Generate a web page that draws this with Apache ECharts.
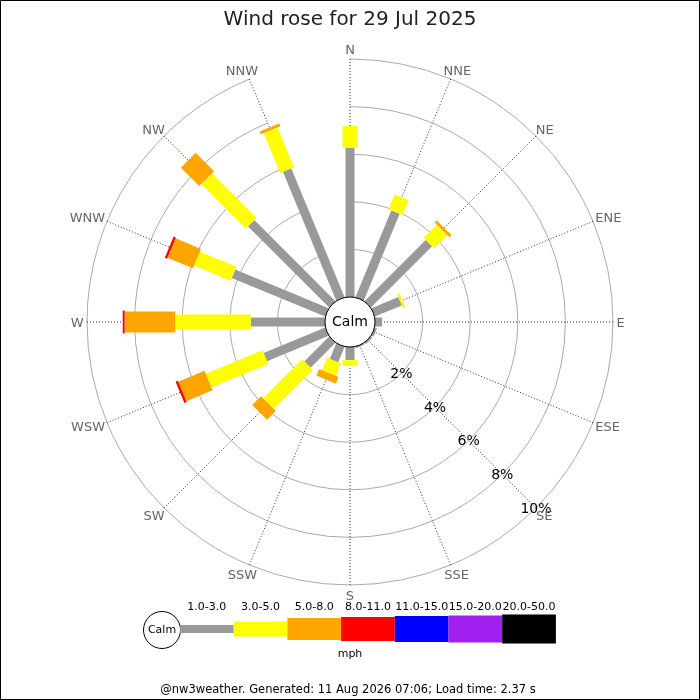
<!DOCTYPE html>
<html>
<head>
<meta charset="utf-8">
<script src="https://cdn.jsdelivr.net/npm/echarts@6/dist/echarts.min.js"></script>
<style>
  html, body { margin: 0; padding: 0; background: #fff; }
  #chart { width: 700px; height: 700px; }
</style>
</head>
<body>
<div id="chart"></div>
<script>
// ---- data ----
const directions = ['N','NNE','NE','ENE','E','ESE','SE','SSE','S','SSW','SW','WSW','W','WNW','NW','NNW'];
// percentage of time per direction in each speed class (mph)
const speed1to3  = [6.26, 3.95, 3.64, 1.23, 0.30, 0.10, 0.08, 0.06, 0.55, 0.71, 1.48, 2.80, 3.12, 4.25, 4.82, 5.86];
const speed3to5  = [0.92, 0.67, 0.78, 0.10, 0, 0, 0, 0, 0.25, 0.56, 2.32, 2.58, 3.17, 1.66, 2.65, 1.81];
const speed5to8  = [0, 0, 0.12, 0, 0, 0, 0, 0, 0, 0.30, 0.52, 1.20, 2.13, 1.16, 1.09, 0.13];
const speed8to11 = [0, 0, 0, 0, 0, 0, 0, 0, 0, 0, 0, 0.10, 0.08, 0.10, 0, 0];
const speedClasses = ['1.0-3.0', '3.0-5.0', '5.0-8.0', '8.0-11.0', '11.0-15.0', '15.0-20.0', '20.0-50.0'];
const radiusTicks = [2, 4, 6, 8, 10];
const titleText = 'Wind rose for 29 Jul 2025';
const footerText = '@nw3weather. Generated: 11 Aug 2026 07:06; Load time: 2.37 s';

// ---- styles ----
const classColors = ['#999999', '#ffff00', '#ffa500', '#ff0000', '#0000ff', '#a020f0', '#000000'];
const roseWidths = [9, 15, 21, 23];
const legendHeights = [8, 15, 22, 24, 26, 27, 29];
const FONT = 'DejaVu Sans';
const DIR_FONT = '13px "' + FONT + '"';

const classSeries = [speed1to3, speed3to5, speed5to8, speed8to11];
const rMax = radiusTicks[radiusTicks.length - 1];

const measureCtx = document.createElement('canvas').getContext('2d');
function textWidth(t, font) { measureCtx.font = font; return measureCtx.measureText(t).width; }

function buildSegments(k) {
  const out = [];
  for (let i = 0; i < directions.length; i++) {
    let start = 0;
    for (let j = 0; j < k; j++) start += classSeries[j][i];
    const v = classSeries[k][i];
    if (v > 0) out.push([start + v, i, start]);
  }
  return out;
}

function barRenderer(width, color) {
  return function (params, api) {
    const end = api.value(0), idx = api.value(1), start = api.value(2);
    const cx = params.coordSys.cx, cy = params.coordSys.cy;
    const p0 = api.coord([start, idx]);
    const p1 = api.coord([end, idx]);
    let dx = p1[0] - cx, dy = p1[1] - cy;
    const len = Math.sqrt(dx * dx + dy * dy) || 1;
    dx /= len; dy /= len;
    const nx = -dy * width / 2, ny = dx * width / 2;
    return {
      type: 'polygon',
      shape: { points: [
        [p0[0] + nx, p0[1] + ny], [p1[0] + nx, p1[1] + ny],
        [p1[0] - nx, p1[1] - ny], [p0[0] - nx, p0[1] - ny]
      ] },
      style: { fill: color }
    };
  };
}

const series = classSeries.map((arr, k) => ({
  type: 'custom',
  name: speedClasses[k],
  coordinateSystem: 'polar',
  z: 3 + k,
  silent: true,
  data: buildSegments(k),
  renderItem: barRenderer(roseWidths[k], classColors[k])
}));

// calm circle in the centre
series.push({
  type: 'custom',
  coordinateSystem: 'polar',
  z: 20,
  silent: true,
  data: [[0, 0]],
  renderItem: function (params, api) {
    const cs = params.coordSys;
    return {
      type: 'group',
      children: [
        { type: 'circle', shape: { cx: cs.cx, cy: cs.cy, r: cs.r0 },
          style: { fill: '#fff', stroke: '#000', lineWidth: 1 } },
        { type: 'text', x: cs.cx, y: cs.cy,
          style: { text: 'Calm', fill: '#000', font: '14px "' + FONT + '"', align: 'center', verticalAlign: 'middle' } }
      ]
    };
  }
});

// percentage labels along SE spoke
const seIndex = directions.indexOf('SE');
series.push({
  type: 'custom',
  coordinateSystem: 'polar',
  z: 21,
  silent: true,
  data: radiusTicks.map(v => [v, seIndex]),
  renderItem: function (params, api) {
    const p = api.coord([api.value(0), api.value(1)]);
    return {
      type: 'text', x: p[0], y: p[1] + 1,
      style: { text: api.value(0) + '%', fill: '#000', font: '14px "' + FONT + '"', align: 'center', verticalAlign: 'middle' }
    };
  }
});

// compass direction labels just outside the outer ring
series.push({
  type: 'custom',
  coordinateSystem: 'polar',
  z: 22,
  silent: true,
  data: directions.map((d, i) => [rMax, i]),
  renderItem: function (params, api) {
    const cs = params.coordSys;
    const i = api.value(1);
    const p = api.coord([api.value(0), i]);
    let ux = p[0] - cs.cx, uy = p[1] - cs.cy;
    const len = Math.sqrt(ux * ux + uy * uy) || 1;
    ux /= len; uy /= len;
    const label = directions[i];
    const hw = textWidth(label, DIR_FONT) / 2, hh = 6.5;
    const gap = 3.5;
    return {
      type: 'text',
      x: p[0] + ux * gap + hw * ux,
      y: p[1] + uy * gap + hh * uy + 1.5,
      style: { text: label, fill: '#666', font: DIR_FONT, align: 'center', verticalAlign: 'middle' }
    };
  }
});

// ---- legend graphics ----
const graphics = [];
graphics.push({ type: 'rect', shape: { x: 0.5, y: 0.5, width: 699, height: 699 },
  style: { fill: 'none', stroke: '#000', lineWidth: 1 }, z: 100 });
const legX0 = 180, legW = 53.7, legCY = 629;
graphics.push({ type: 'circle', shape: { cx: 162, cy: 630, r: 18.5 },
  style: { fill: '#fff', stroke: '#000', lineWidth: 1 } });
graphics.push({ type: 'text', x: 162, y: 630,
  style: { text: 'Calm', fill: '#000', font: '11px "' + FONT + '"', align: 'center', verticalAlign: 'middle' } });
speedClasses.forEach((lab, k) => {
  const x = legX0 + k * legW;
  graphics.push({ type: 'rect', shape: { x: x, y: legCY - legendHeights[k] / 2, width: legW, height: legendHeights[k] },
    style: { fill: classColors[k] } });
  graphics.push({ type: 'text', x: x + legW / 2, y: 607,
    style: { text: lab, fill: '#000', font: '11px "' + FONT + '"', align: 'center', verticalAlign: 'middle' } });
});
graphics.push({ type: 'text', x: 350, y: 654,
  style: { text: 'mph', fill: '#000', font: '11px "' + FONT + '"', align: 'center', verticalAlign: 'middle' } });
graphics.push({ type: 'text', x: 348, y: 690,
  style: { text: footerText, fill: '#000', font: '11.5px "' + FONT + '"', align: 'center', verticalAlign: 'middle' } });

const chart = echarts.init(document.getElementById('chart'), null, { renderer: 'canvas' });
chart.setOption({
  backgroundColor: '#fff',
  animation: false,
  title: {
    text: titleText, left: 'center', top: 5,
    textStyle: { fontFamily: FONT, fontSize: 20, fontWeight: 'normal', color: '#222' }
  },
  polar: { center: [350, 322], radius: [25, 263] },
  angleAxis: {
    type: 'category', data: directions, boundaryGap: false,
    startAngle: 90, clockwise: true,
    axisLine: { show: false }, axisTick: { show: false },
    axisLabel: { show: false },
    splitLine: { show: true, lineStyle: { type: [1, 2], color: '#333', width: 1 } },
    splitArea: { show: false }
  },
  radiusAxis: {
    type: 'value', min: 0, max: rMax, interval: 2,
    axisLine: { show: false }, axisTick: { show: false }, axisLabel: { show: false },
    splitLine: { show: true, lineStyle: { color: '#aaa', width: 1, type: 'solid' } },
    splitArea: { show: false }
  },
  graphic: graphics,
  series: series
});
</script>
</body>
</html>
